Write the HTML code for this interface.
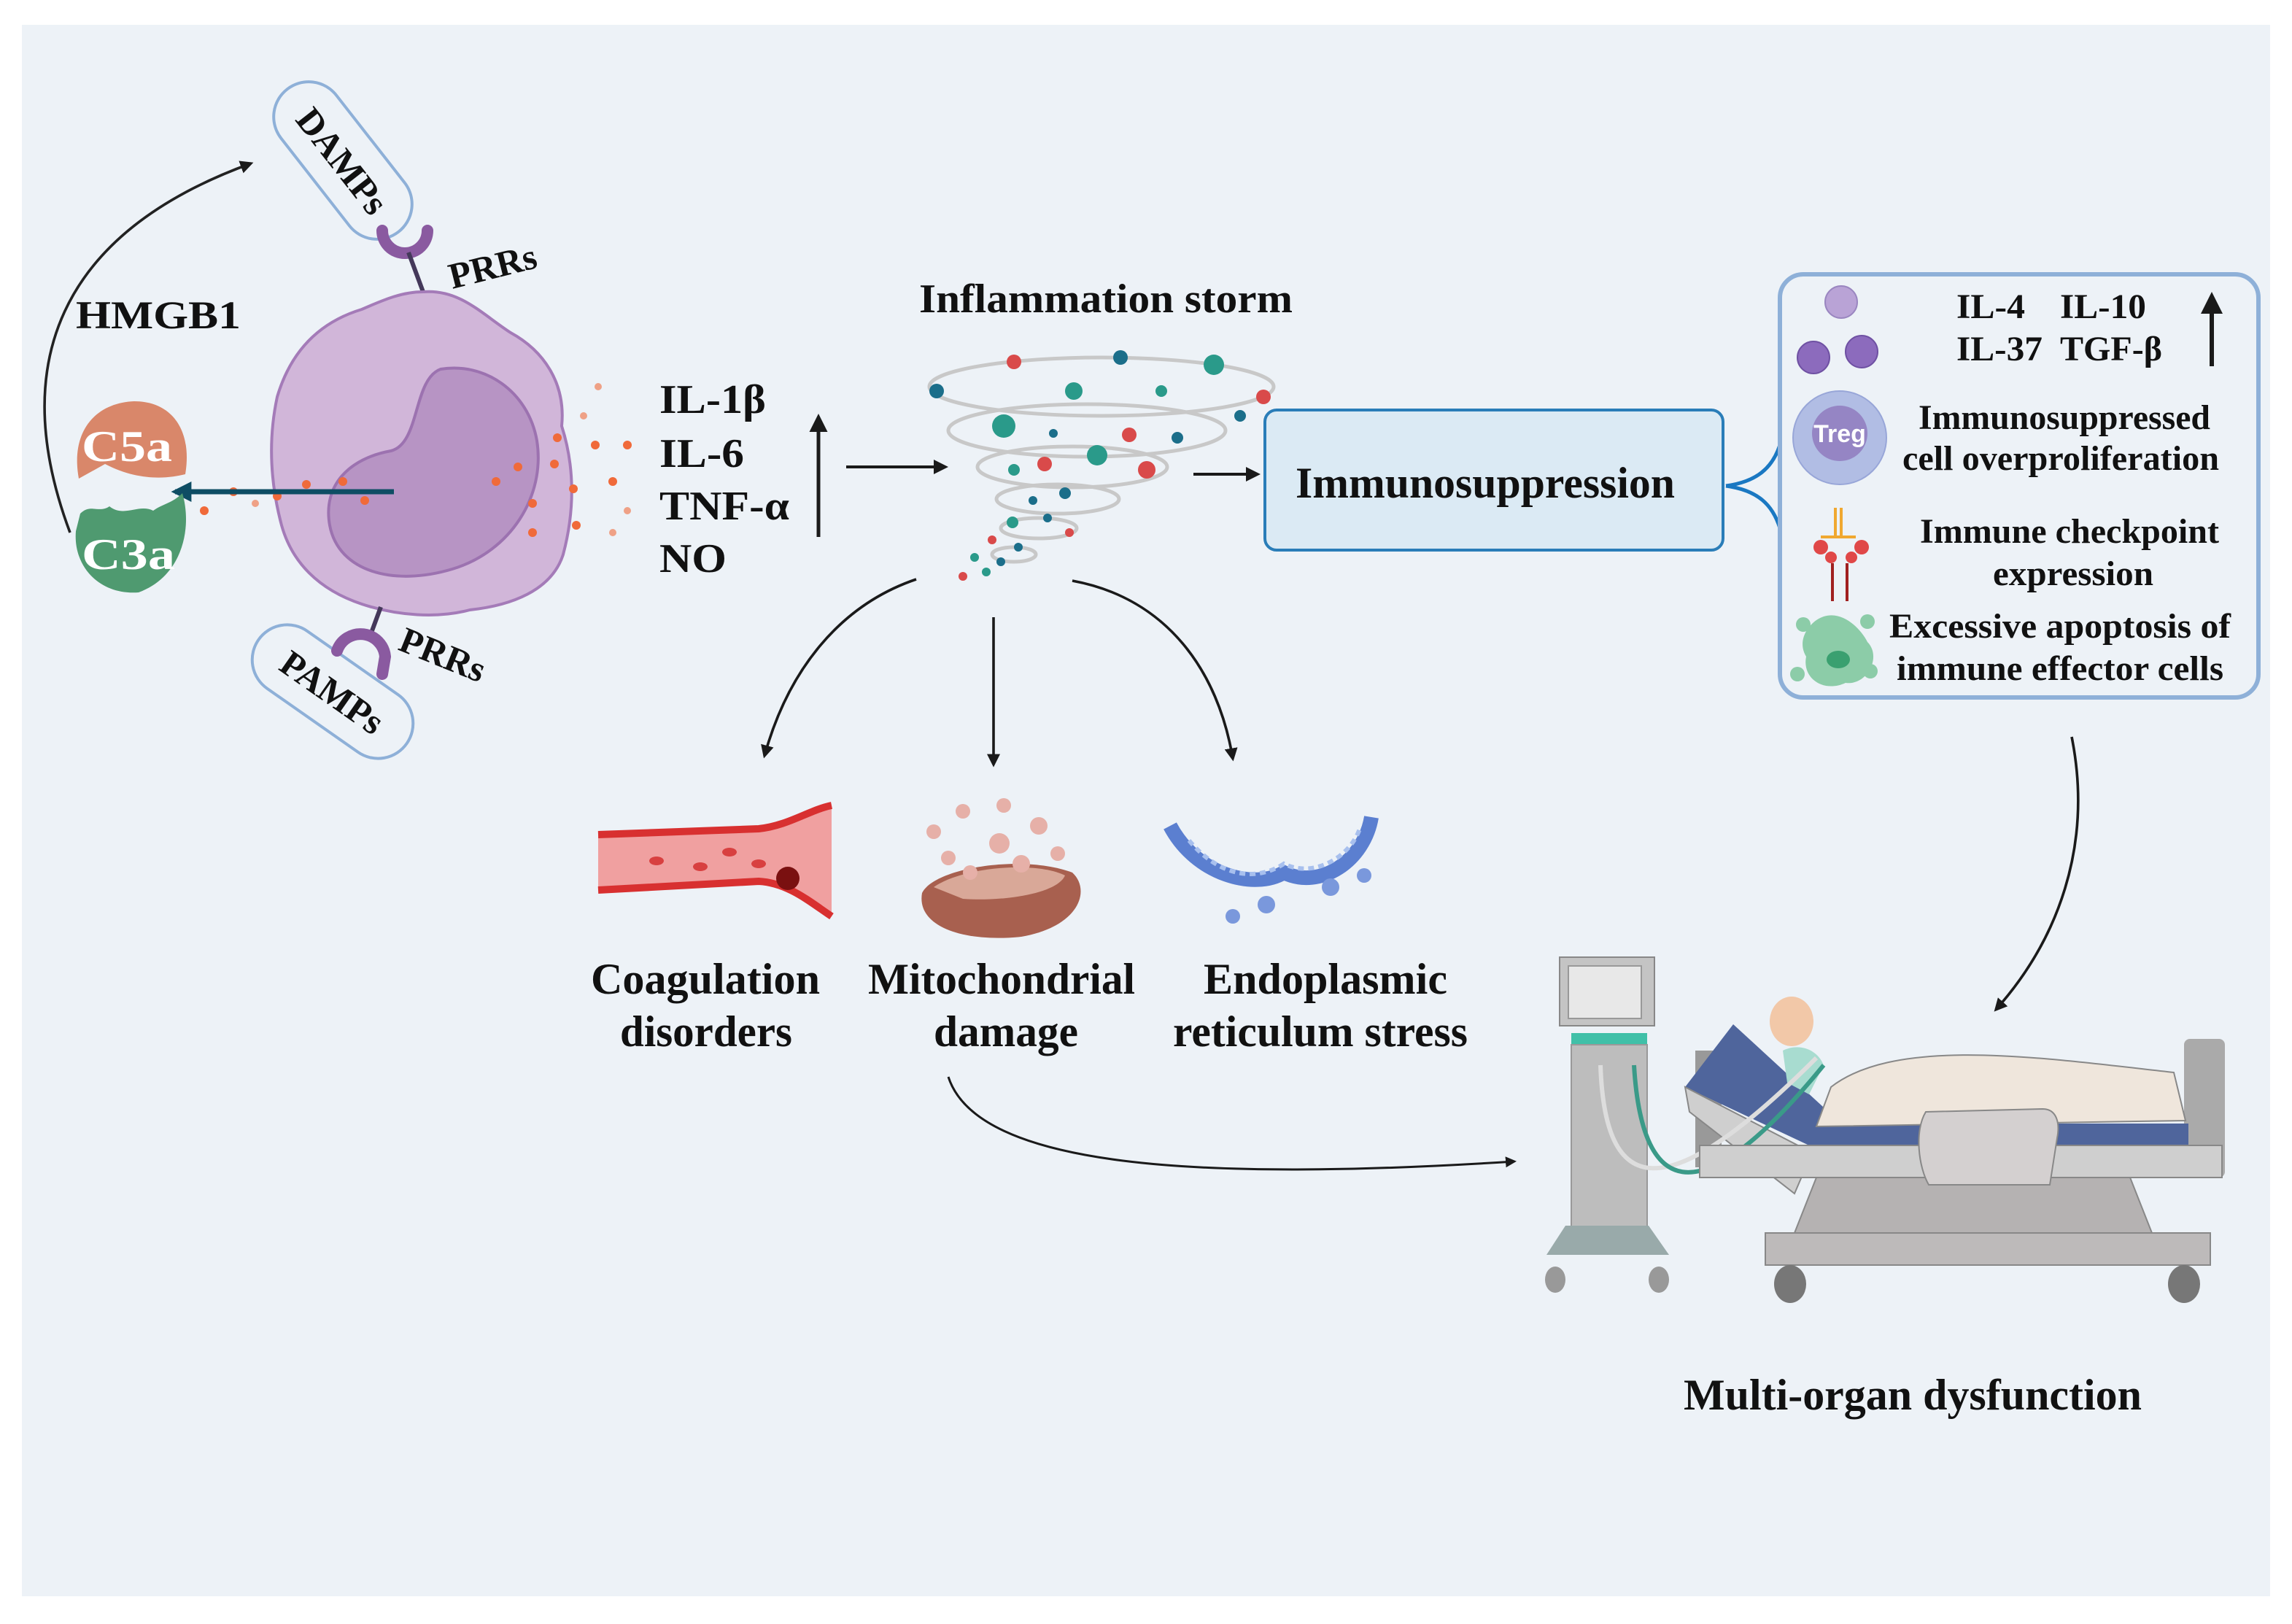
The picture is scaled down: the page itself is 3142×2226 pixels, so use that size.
<!DOCTYPE html>
<html><head><meta charset="utf-8"><style>
html,body{margin:0;padding:0;background:#fff;}
svg{display:block;}
text{font-family:"Liberation Serif",serif;fill:#111;font-weight:bold;}
</style></head><body>
<svg width="3142" height="2226" viewBox="0 0 1571 1113" xmlns="http://www.w3.org/2000/svg">
<defs>
<marker id="ah" viewBox="0 0 10 10" refX="8" refY="5" markerWidth="5" markerHeight="5" orient="auto"><path d="M0,0 L10,5 L0,10 z" fill="#1a1a1a"/></marker>
<marker id="ahb" viewBox="0 0 10 10" refX="8" refY="5" markerWidth="4" markerHeight="4" orient="auto"><path d="M0,0 L10,5 L0,10 z" fill="#0e4d64"/></marker>
</defs>
<rect x="0" y="0" width="1571" height="1113" fill="#fff"/>
<rect x="15" y="17" width="1541" height="1077" fill="#edf2f7"/>

<!-- HMGB1 arc -->
<path d="M48,365 C5,250 40,160 172,112" fill="none" stroke="#222" stroke-width="1.8" marker-end="url(#ah)"/>
<text x="52" y="225" font-size="27" textLength="113" lengthAdjust="spacingAndGlyphs">HMGB1</text>

<!-- DAMPs pill -->
<g transform="translate(235,110) rotate(52)">
<rect x="-62" y="-24" width="124" height="48" rx="24" fill="#edf2f7" stroke="#8eb0d8" stroke-width="2"/>
<text x="0" y="9" font-size="25" text-anchor="middle">DAMPs</text>
</g>
<path d="M262,158 A15,15 0 0 0 293,158" fill="none" stroke="#8a5aa0" stroke-width="8" stroke-linecap="round"/>
<line x1="280" y1="173" x2="290" y2="200" stroke="#44385a" stroke-width="3"/>
<text x="310" y="198" font-size="25" transform="rotate(-14 310 198)">PRRs</text>

<!-- cell -->
<path d="M290,200 C315,198 330,215 350,228 C372,240 388,262 385,292 C394,320 394,350 386,380 C378,405 350,415 322,418 C300,424 272,422 248,414 C218,404 200,385 193,360 C185,330 184,300 190,272 C198,245 215,222 248,212 C264,205 276,200 290,200 Z" fill="#d1b6d9" stroke="#a47bb8" stroke-width="2"/>
<path d="M302,253 C332,248 362,268 368,302 C374,340 350,378 310,390 C270,402 232,392 226,360 C221,332 240,314 268,309 C288,304 283,260 302,253 Z" fill="#b794c4" stroke="#9c72b0" stroke-width="2"/>

<!-- lower receptor -->
<line x1="261" y1="416" x2="254" y2="435" stroke="#44385a" stroke-width="3"/>
<!-- PAMPs -->
<g transform="translate(228,474) rotate(35)">
<rect x="-62" y="-24" width="124" height="48" rx="24" fill="#edf2f7" stroke="#8eb0d8" stroke-width="2"/>
<text x="0" y="9" font-size="25" text-anchor="middle">PAMPs</text>
</g>
<path d="M231,446 A17,17 0 0 1 264,450 L262,462" fill="none" stroke="#8a5aa0" stroke-width="8" stroke-linecap="round"/>
<text x="272" y="445" font-size="25" transform="rotate(22 272 445)">PRRs</text>

<!-- dots -->
<g fill="#f06a3a">
<circle cx="340" cy="330" r="3"/><circle cx="355" cy="320" r="3"/><circle cx="365" cy="345" r="3"/><circle cx="380" cy="318" r="3"/><circle cx="393" cy="335" r="3"/><circle cx="408" cy="305" r="3"/><circle cx="420" cy="330" r="3"/><circle cx="430" cy="305" r="3"/><circle cx="382" cy="300" r="3"/><circle cx="400" cy="285" r="2.5" opacity=".6"/><circle cx="410" cy="265" r="2.5" opacity=".6"/><circle cx="430" cy="350" r="2.5" opacity=".6"/><circle cx="420" cy="365" r="2.5" opacity=".6"/><circle cx="395" cy="360" r="3"/><circle cx="365" cy="365" r="3"/>
<circle cx="190" cy="340" r="3"/><circle cx="210" cy="332" r="3"/><circle cx="160" cy="337" r="3"/><circle cx="175" cy="345" r="2.5" opacity=".6"/><circle cx="140" cy="350" r="3"/><circle cx="250" cy="343" r="3"/><circle cx="235" cy="330" r="3"/>
</g>
<line x1="270" y1="337" x2="120" y2="337" stroke="#0e4d64" stroke-width="3.5" marker-end="url(#ahb)"/>
<!-- C5a C3a -->
<path d="M54,328 C48,295 66,276 92,275 C118,275 132,295 127,325 C115,328 95,330 72,318 Z" fill="#d9876a"/>
<text x="56" y="316" font-size="30" style="fill:#fff" textLength="62" lengthAdjust="spacingAndGlyphs">C5a</text>
<path d="M55,352 C62,345 68,352 75,347 C85,355 95,345 105,350 C112,345 118,345 125,338 C132,362 125,395 95,406 C68,408 50,388 52,364 Z" fill="#4f9a70"/>
<text x="56" y="390" font-size="30" style="fill:#fff" textLength="64" lengthAdjust="spacingAndGlyphs">C3a</text>

<!-- cytokines -->
<text x="452" y="283" font-size="28" textLength="73" lengthAdjust="spacingAndGlyphs">IL-1β</text>
<text x="452" y="320" font-size="28" textLength="58" lengthAdjust="spacingAndGlyphs">IL-6</text>
<text x="452" y="356" font-size="28" textLength="89" lengthAdjust="spacingAndGlyphs">TNF-α</text>
<text x="452" y="392" font-size="28" textLength="46" lengthAdjust="spacingAndGlyphs">NO</text>
<line x1="561" y1="368" x2="561" y2="286" stroke="#1a1a1a" stroke-width="2.5" marker-end="url(#ah)"/>
<line x1="580" y1="320" x2="648" y2="320" stroke="#1a1a1a" stroke-width="2" marker-end="url(#ah)"/>

<!-- storm -->
<text x="630" y="214" font-size="28" textLength="256" lengthAdjust="spacingAndGlyphs">Inflammation storm</text>
<g fill="none" stroke="#c8c8c8" stroke-width="2.5">
<ellipse cx="755" cy="265" rx="118" ry="20"/>
<ellipse cx="745" cy="295" rx="95" ry="18"/>
<ellipse cx="735" cy="320" rx="65" ry="14"/>
<ellipse cx="725" cy="342" rx="42" ry="10"/>
<ellipse cx="712" cy="362" rx="26" ry="7"/>
<ellipse cx="695" cy="380" rx="15" ry="5"/>
</g>
<g>
<circle cx="695" cy="248" r="5" fill="#d94a4a"/><circle cx="768" cy="245" r="5" fill="#1b6e8a"/><circle cx="832" cy="250" r="7" fill="#2a9a8a"/><circle cx="866" cy="272" r="5" fill="#d94a4a"/><circle cx="642" cy="268" r="5" fill="#1b6e8a"/><circle cx="736" cy="268" r="6" fill="#2a9a8a"/><circle cx="796" cy="268" r="4" fill="#2a9a8a"/><circle cx="688" cy="292" r="8" fill="#2a9a8a"/><circle cx="774" cy="298" r="5" fill="#d94a4a"/><circle cx="722" cy="297" r="3" fill="#1b6e8a"/><circle cx="752" cy="312" r="7" fill="#2a9a8a"/><circle cx="786" cy="322" r="6" fill="#d94a4a"/><circle cx="807" cy="300" r="4" fill="#1b6e8a"/><circle cx="850" cy="285" r="4" fill="#1b6e8a"/><circle cx="716" cy="318" r="5" fill="#d94a4a"/><circle cx="695" cy="322" r="4" fill="#2a9a8a"/><circle cx="730" cy="338" r="4" fill="#1b6e8a"/><circle cx="708" cy="343" r="3" fill="#1b6e8a"/><circle cx="733" cy="365" r="3" fill="#d94a4a"/><circle cx="694" cy="358" r="4" fill="#2a9a8a"/><circle cx="718" cy="355" r="3" fill="#1b6e8a"/><circle cx="680" cy="370" r="3" fill="#d94a4a"/><circle cx="698" cy="375" r="3" fill="#1b6e8a"/><circle cx="668" cy="382" r="3" fill="#2a9a8a"/><circle cx="686" cy="385" r="3" fill="#1b6e8a"/><circle cx="660" cy="395" r="3" fill="#d94a4a"/><circle cx="676" cy="392" r="3" fill="#2a9a8a"/>
</g>
<line x1="818" y1="325" x2="862" y2="325" stroke="#1a1a1a" stroke-width="2" marker-end="url(#ah)"/>

<!-- Immunosuppression box -->
<rect x="867" y="281" width="314" height="96" rx="8" fill="#dbeaf4" stroke="#2a7db8" stroke-width="2"/>
<text x="888" y="341" font-size="30" textLength="260" lengthAdjust="spacingAndGlyphs">Immunosuppression</text>
<path d="M1183,333 C1205,330 1215,320 1220,305 M1183,333 C1205,336 1215,346 1220,362" fill="none" stroke="#1a78c2" stroke-width="2.5"/>

<!-- right panel -->
<rect x="1220" y="188" width="328" height="290" rx="16" fill="#edf2f7" stroke="#8eb0d8" stroke-width="3"/>
<circle cx="1262" cy="207" r="11" fill="#b9a3d6" stroke="#9a86c0"/>
<circle cx="1243" cy="245" r="11" fill="#8c6bbd" stroke="#6f51a3"/>
<circle cx="1276" cy="241" r="11" fill="#8c6bbd" stroke="#6f51a3"/>
<text x="1341" y="218" font-size="24" textLength="47" lengthAdjust="spacingAndGlyphs">IL-4</text><text x="1412" y="218" font-size="24" textLength="59" lengthAdjust="spacingAndGlyphs">IL-10</text>
<text x="1341" y="247" font-size="24" textLength="59" lengthAdjust="spacingAndGlyphs">IL-37</text><text x="1412" y="247" font-size="24" textLength="70" lengthAdjust="spacingAndGlyphs">TGF-β</text>
<line x1="1516" y1="251" x2="1516" y2="203" stroke="#1a1a1a" stroke-width="3" marker-end="url(#ah)"/>
<circle cx="1261" cy="300" r="32" fill="#b1bde4" stroke="#98a6d8"/>
<circle cx="1261" cy="297" r="19" fill="#9585c4"/>
<text x="1261" y="303" font-size="17" text-anchor="middle" style="fill:#fff;font-family:'Liberation Sans',sans-serif">Treg</text>
<text x="1315" y="294" font-size="24" textLength="200" lengthAdjust="spacingAndGlyphs">Immunosuppressed</text>
<text x="1304" y="322" font-size="24" textLength="217" lengthAdjust="spacingAndGlyphs">cell overproliferation</text>
<line x1="1258" y1="348" x2="1258" y2="368" stroke="#f0a830" stroke-width="2"/><line x1="1262" y1="348" x2="1262" y2="368" stroke="#f0a830" stroke-width="2"/>
<path d="M1248,368 L1272,368" stroke="#f0a830" stroke-width="2"/>
<circle cx="1248" cy="375" r="5" fill="#e04848"/><circle cx="1276" cy="375" r="5" fill="#e04848"/><circle cx="1255" cy="382" r="4" fill="#e04848"/><circle cx="1269" cy="382" r="4" fill="#e04848"/>
<line x1="1256" y1="386" x2="1256" y2="412" stroke="#a02020" stroke-width="2"/><line x1="1266" y1="386" x2="1266" y2="412" stroke="#a02020" stroke-width="2"/>
<text x="1316" y="372" font-size="24" textLength="205" lengthAdjust="spacingAndGlyphs">Immune checkpoint</text>
<text x="1366" y="401" font-size="24" textLength="110" lengthAdjust="spacingAndGlyphs">expression</text>
<path d="M1245,425 C1260,415 1275,430 1280,440 C1290,450 1280,470 1265,468 C1250,475 1235,465 1238,450 C1232,440 1238,430 1245,425 Z" fill="#8ccca8"/>
<circle cx="1236" cy="428" r="5" fill="#8ccca8"/><circle cx="1280" cy="426" r="5" fill="#8ccca8"/><circle cx="1232" cy="462" r="5" fill="#8ccca8"/><circle cx="1282" cy="460" r="5" fill="#8ccca8"/>
<ellipse cx="1260" cy="452" rx="8" ry="6" fill="#3aa070"/>
<text x="1295" y="437" font-size="24" textLength="234" lengthAdjust="spacingAndGlyphs">Excessive apoptosis of</text>
<text x="1300" y="466" font-size="24" textLength="224" lengthAdjust="spacingAndGlyphs">immune effector cells</text>

<!-- branching arrows -->
<path d="M628,397 C575,415 540,460 524,518" fill="none" stroke="#1a1a1a" stroke-width="1.8" marker-end="url(#ah)"/>
<line x1="681" y1="423" x2="681" y2="524" stroke="#1a1a1a" stroke-width="1.8" marker-end="url(#ah)"/>
<path d="M735,398 C800,410 835,460 845,520" fill="none" stroke="#1a1a1a" stroke-width="1.8" marker-end="url(#ah)"/>
<path d="M1420,505 C1435,580 1410,645 1368,692" fill="none" stroke="#1a1a1a" stroke-width="1.8" marker-end="url(#ah)"/>
<path d="M650,738 C670,800 820,810 1038,796" fill="none" stroke="#1a1a1a" stroke-width="1.5" marker-end="url(#ah)"/>

<!-- vessel -->
<path d="M410,572 L520,568 C540,566 555,555 570,552 L570,628 C555,618 540,605 520,604 L410,610 Z" fill="#f0a0a0"/>
<path d="M410,572 L520,568 C540,566 555,555 570,552" fill="none" stroke="#d83030" stroke-width="5"/>
<path d="M410,610 L520,604 C540,605 555,618 570,628" fill="none" stroke="#d83030" stroke-width="5"/>
<g fill="#d84040"><ellipse cx="450" cy="590" rx="5" ry="3"/><ellipse cx="480" cy="594" rx="5" ry="3"/><ellipse cx="500" cy="584" rx="5" ry="3"/><ellipse cx="520" cy="592" rx="5" ry="3"/></g>
<circle cx="540" cy="602" r="8" fill="#7a1010"/>
<!-- mito -->
<path d="M632,612 C640,595 700,585 735,598 C748,610 740,635 700,642 C660,646 628,635 632,612 Z" fill="#a8604f"/>
<path d="M640,608 C660,594 710,590 730,600 C725,612 690,618 660,616 Z" fill="#d9a898"/>
<g fill="#e6b0a8"><circle cx="640" cy="570" r="5"/><circle cx="660" cy="556" r="5"/><circle cx="688" cy="552" r="5"/><circle cx="712" cy="566" r="6"/><circle cx="725" cy="585" r="5"/><circle cx="650" cy="588" r="5"/><circle cx="685" cy="578" r="7"/><circle cx="700" cy="592" r="6"/><circle cx="665" cy="598" r="5"/></g>
<!-- ER -->
<path d="M802,566 C820,600 860,610 880,598 C905,610 935,590 940,560" fill="none" stroke="#5b7fd0" stroke-width="10"/>
<path d="M815,576 C835,600 860,605 880,592 C900,602 925,588 932,568" fill="none" stroke="#a8c0ee" stroke-width="3" stroke-dasharray="4 3"/>
<g fill="#7a98dc"><circle cx="845" cy="628" r="5"/><circle cx="868" cy="620" r="6"/><circle cx="912" cy="608" r="6"/><circle cx="935" cy="600" r="5"/></g>

<text x="405" y="681" font-size="30" textLength="157" lengthAdjust="spacingAndGlyphs">Coagulation</text>
<text x="425" y="717" font-size="30" textLength="118" lengthAdjust="spacingAndGlyphs">disorders</text>
<text x="595" y="681" font-size="30" textLength="183" lengthAdjust="spacingAndGlyphs">Mitochondrial</text>
<text x="640" y="717" font-size="30" textLength="99" lengthAdjust="spacingAndGlyphs">damage</text>
<text x="825" y="681" font-size="30" textLength="167" lengthAdjust="spacingAndGlyphs">Endoplasmic</text>
<text x="804" y="717" font-size="30" textLength="202" lengthAdjust="spacingAndGlyphs">reticulum stress</text>

<!-- ventilator -->
<rect x="1069" y="656" width="65" height="47" fill="#c4c4c4" stroke="#888"/>
<rect x="1075" y="662" width="50" height="36" fill="#e8e8e8" stroke="#999"/>
<rect x="1077" y="708" width="52" height="8" fill="#40c0a8"/>
<rect x="1077" y="716" width="52" height="140" fill="#bdbdbd" stroke="#999"/>
<path d="M1073,840 L1060,860 L1144,860 L1130,840 Z" fill="#9aa"/>
<ellipse cx="1066" cy="877" rx="7" ry="9" fill="#999"/><ellipse cx="1137" cy="877" rx="7" ry="9" fill="#999"/>
<!-- bed -->
<rect x="1497" y="712" width="28" height="95" rx="4" fill="#aaa"/>
<rect x="1162" y="720" width="18" height="80" fill="#999"/>
<path d="M1245,807 L1460,807 L1475,845 L1230,845 Z" fill="#b5b2b2" stroke="#888"/>
<path d="M1155,745 L1188,702 L1262,770 L1500,770 L1500,785 L1240,785 Z" fill="#4f659c"/>
<path d="M1155,745 L1158,762 L1230,818 L1242,790 Z" fill="#cfcfcf" stroke="#888"/>
<path d="M1255,745 C1300,710 1400,725 1490,735 L1498,768 L1245,772 Z" fill="#efe6dc" stroke="#888"/>
<ellipse cx="1228" cy="700" rx="15" ry="17" fill="#f2c8a8"/>
<path d="M1222,720 C1232,715 1245,718 1250,730 L1240,750 L1225,742 Z" fill="#a8dcd0"/>
<path d="M1097,730 C1100,820 1140,830 1245,725" fill="none" stroke="#ddd" stroke-width="3"/>
<path d="M1120,730 C1125,815 1160,840 1250,730" fill="none" stroke="#3a9a88" stroke-width="3"/>
<rect x="1165" y="785" width="358" height="22" fill="#cfcfcf" stroke="#888"/>
<path d="M1320,762 L1400,760 C1410,760 1412,770 1410,780 L1405,812 L1322,812 C1315,800 1312,775 1320,762 Z" fill="#d4d0d0" stroke="#888"/>
<rect x="1210" y="845" width="305" height="22" fill="#bdbaba" stroke="#888"/>
<ellipse cx="1227" cy="880" rx="11" ry="13" fill="#777"/><ellipse cx="1497" cy="880" rx="11" ry="13" fill="#777"/>

<text x="1154" y="966" font-size="30" textLength="314" lengthAdjust="spacingAndGlyphs">Multi-organ dysfunction</text>
</svg>
</body></html>
